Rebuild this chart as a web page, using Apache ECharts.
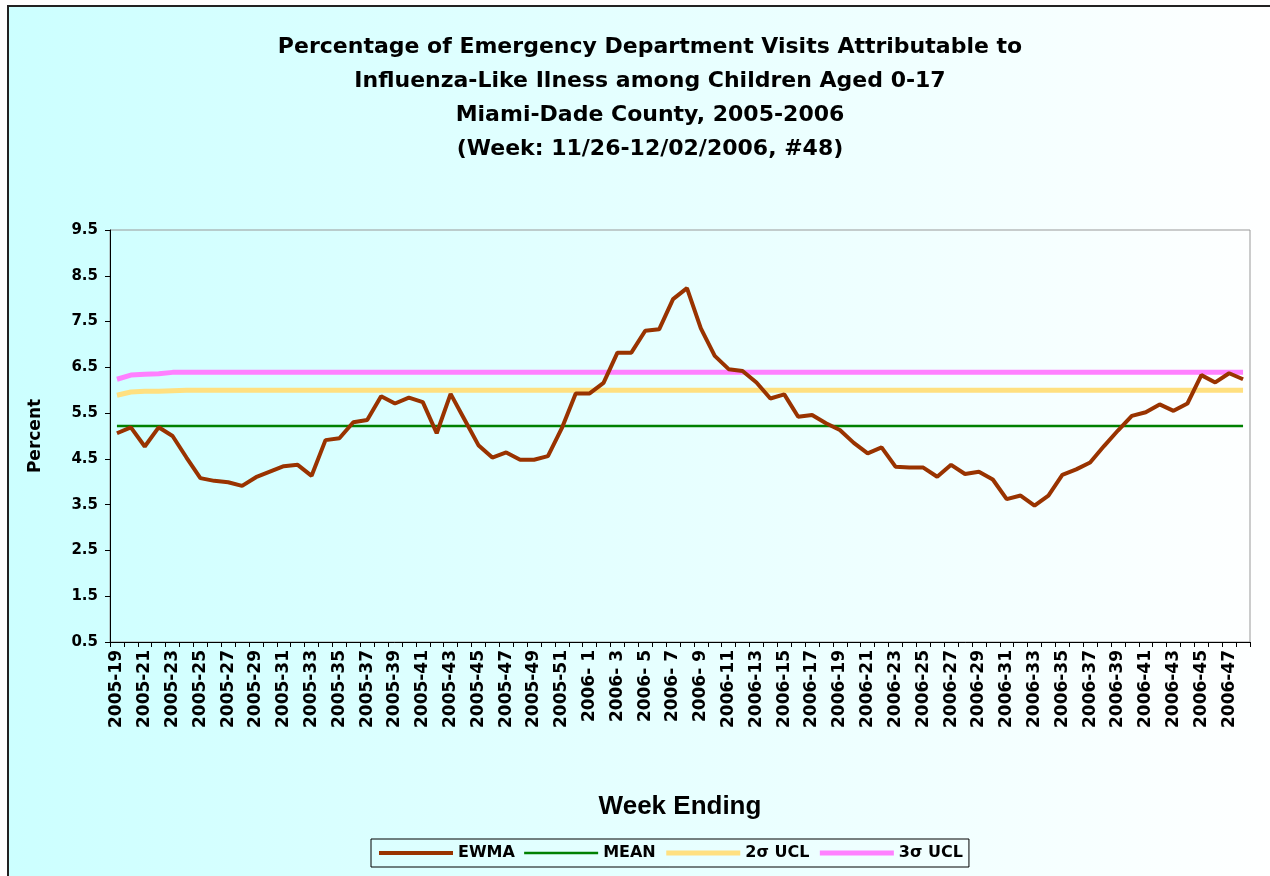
<!DOCTYPE html>
<html>
<head>
<meta charset="utf-8">
<script src="https://cdn.jsdelivr.net/npm/echarts@6/dist/echarts.min.js"></script>
<style>
    html, body { margin: 0; padding: 0; background: #ffffff; }
    #ilChart { width: 1270px; height: 876px; }
</style>
</head>
<body>
<div id="ilChart"></div>
<script>
    // week labels: 2005-19 .. 2005-52, 2006- 1 .. 2006-48
    var weeks2005 = [19, 52]
    var weeks2006 = [1, 48]
    var categories = []
    for (var w = weeks2005[0]; w <= weeks2005[1]; w++) categories.push('2005-' + w)
    for (var w2 = weeks2006[0]; w2 <= weeks2006[1]; w2++) categories.push('2006-' + (w2 < 10 ? ' ' + w2 : w2))

    var yTicks = [0.5, 1.5, 2.5, 3.5, 4.5, 5.5, 6.5, 7.5, 8.5, 9.5]

    var ewma = [5.06, 5.19, 4.77, 5.19, 5.00, 4.53, 4.08, 4.02, 3.99, 3.91,
        4.10, 4.22, 4.34, 4.37, 4.13, 4.91, 4.95, 5.30, 5.35, 5.87,
        5.71, 5.84, 5.74, 5.06, 5.92, 5.36, 4.80, 4.53, 4.64, 4.48,
        4.48, 4.56, 5.17, 5.93, 5.93, 6.16, 6.82, 6.82, 7.30, 7.33,
        7.99, 8.23, 7.35, 6.75, 6.46, 6.42, 6.17, 5.82, 5.91, 5.42,
        5.46, 5.28, 5.13, 4.85, 4.62, 4.75, 4.33, 4.31, 4.31, 4.11,
        4.37, 4.17, 4.22, 4.05, 3.62, 3.70, 3.48, 3.70, 4.15, 4.27,
        4.42, 4.78, 5.12, 5.44, 5.52, 5.69, 5.55, 5.71, 6.33, 6.17,
        6.37, 6.24]

    var mean = [5.22, 5.22, 5.22, 5.22, 5.22, 5.22, 5.22, 5.22, 5.22, 5.22,
        5.22, 5.22, 5.22, 5.22, 5.22, 5.22, 5.22, 5.22, 5.22, 5.22,
        5.22, 5.22, 5.22, 5.22, 5.22, 5.22, 5.22, 5.22, 5.22, 5.22,
        5.22, 5.22, 5.22, 5.22, 5.22, 5.22, 5.22, 5.22, 5.22, 5.22,
        5.22, 5.22, 5.22, 5.22, 5.22, 5.22, 5.22, 5.22, 5.22, 5.22,
        5.22, 5.22, 5.22, 5.22, 5.22, 5.22, 5.22, 5.22, 5.22, 5.22,
        5.22, 5.22, 5.22, 5.22, 5.22, 5.22, 5.22, 5.22, 5.22, 5.22,
        5.22, 5.22, 5.22, 5.22, 5.22, 5.22, 5.22, 5.22, 5.22, 5.22,
        5.22, 5.22]

    var ucl2 = [5.89, 5.96, 5.98, 5.98, 5.99, 6.00, 6.00, 6.00, 6.00, 6.00,
        6.00, 6.00, 6.00, 6.00, 6.00, 6.00, 6.00, 6.00, 6.00, 6.00,
        6.00, 6.00, 6.00, 6.00, 6.00, 6.00, 6.00, 6.00, 6.00, 6.00,
        6.00, 6.00, 6.00, 6.00, 6.00, 6.00, 6.00, 6.00, 6.00, 6.00,
        6.00, 6.00, 6.00, 6.00, 6.00, 6.00, 6.00, 6.00, 6.00, 6.00,
        6.00, 6.00, 6.00, 6.00, 6.00, 6.00, 6.00, 6.00, 6.00, 6.00,
        6.00, 6.00, 6.00, 6.00, 6.00, 6.00, 6.00, 6.00, 6.00, 6.00,
        6.00, 6.00, 6.00, 6.00, 6.00, 6.00, 6.00, 6.00, 6.00, 6.00,
        6.00, 6.00]

    var ucl3 = [6.24, 6.33, 6.35, 6.36, 6.39, 6.39, 6.39, 6.39, 6.39, 6.39,
        6.39, 6.39, 6.39, 6.39, 6.39, 6.39, 6.39, 6.39, 6.39, 6.39,
        6.39, 6.39, 6.39, 6.39, 6.39, 6.39, 6.39, 6.39, 6.39, 6.39,
        6.39, 6.39, 6.39, 6.39, 6.39, 6.39, 6.39, 6.39, 6.39, 6.39,
        6.39, 6.39, 6.39, 6.39, 6.39, 6.39, 6.39, 6.39, 6.39, 6.39,
        6.39, 6.39, 6.39, 6.39, 6.39, 6.39, 6.39, 6.39, 6.39, 6.39,
        6.39, 6.39, 6.39, 6.39, 6.39, 6.39, 6.39, 6.39, 6.39, 6.39,
        6.39, 6.39, 6.39, 6.39, 6.39, 6.39, 6.39, 6.39, 6.39, 6.39,
        6.39, 6.39]

    var titleLines = [
        'Percentage of Emergency Department Visits Attributable to',
        'Influenza-Like Ilness among Children Aged 0-17',
        'Miami-Dade County, 2005-2006',
        '(Week: 11/26-12/02/2006, #48)'
    ]

    var font = '"DejaVu Sans", "Liberation Sans", Arial, sans-serif'

    var myChart = echarts.init(document.getElementById('ilChart'), null, {renderer: 'canvas'})
    myChart.setOption({
        animation: false,
        backgroundColor: 'transparent',
        graphic: [
            {   // 背景 + 外框
                type: 'rect',
                z: -10,
                silent: true,
                shape: {x: 8, y: 6, width: 1275, height: 880},
                style: {
                    fill: {
                        type: 'linear', x: 0, y: 0, x2: 1, y2: 0,
                        colorStops: [{offset: 0, color: '#ccffff'}, {offset: 1, color: '#ffffff'}]
                    },
                    stroke: '#222222',
                    lineWidth: 2
                }
            },
            {
                type: 'text',
                silent: true,
                x: 650,
                y: 30,
                style: {
                    text: titleLines.join('\n'),
                    align: 'center',
                    verticalAlign: 'top',
                    fontFamily: font,
                    fontWeight: 'bold',
                    fontSize: 22,
                    lineHeight: 34,
                    fill: '#000000'
                }
            }
        ],
        legend: {
            data: ['EWMA', 'MEAN', '2σ UCL', '3σ UCL'],
            left: 371,
            top: 839,
            padding: [6, 6, 6, 6],
            itemGap: 8,
            itemWidth: 74,
            itemHeight: 8,
            borderColor: '#000000',
            borderWidth: 1,
            itemStyle: {opacity: 0},        // 不显示图例里的圆点
            lineStyle: {width: 'inherit'},
            textStyle: {
                color: '#000000',
                fontFamily: font,
                fontWeight: 'bold',
                fontSize: 16
            }
        },
        grid: {
            left: 110,
            right: 20,
            top: 230,
            bottom: 234,
            show: true,
            borderColor: '#999999',
            borderWidth: 1,
            backgroundColor: 'transparent'
        },
        xAxis: {
            type: 'category',
            data: categories,
            boundaryGap: true,
            name: 'Week Ending',
            nameLocation: 'middle',
            nameGap: 152,
            nameTextStyle: {
                color: '#000000',
                fontFamily: '"Liberation Sans", Arial, sans-serif',
                fontWeight: 'bold',
                fontSize: 26
            },
            axisLine: {show: true, lineStyle: {color: '#000000', width: 1}},
            axisTick: {show: true, interval: 0, length: 5, lineStyle: {color: '#000000'}},
            axisLabel: {
                interval: 1,
                rotate: 90,
                margin: 8,
                color: '#000000',
                fontFamily: font,
                fontWeight: 'bold',
                fontSize: 17
            },
            splitLine: {show: false}
        },
        yAxis: {
            type: 'value',
            min: 0.5,
            max: 9.5,
            name: 'Percent',
            nameLocation: 'middle',
            nameGap: 66,
            nameTextStyle: {
                color: '#000000',
                fontFamily: font,
                fontWeight: 'bold',
                fontSize: 17
            },
            axisLine: {show: true, lineStyle: {color: '#000000', width: 1}},
            axisTick: {show: true, length: 5, customValues: yTicks, lineStyle: {color: '#000000'}},
            axisLabel: {
                customValues: yTicks,
                margin: 12,
                color: '#000000',
                fontFamily: font,
                fontWeight: 'bold',
                fontSize: 15,
                formatter: function (v) { return v.toFixed(1) }
            },
            splitLine: {show: false}
        },
        series: [
            {
                name: 'EWMA',
                type: 'line',
                data: ewma,
                symbol: 'none',
                z: 5,
                itemStyle: {color: '#993300'},
                lineStyle: {color: '#993300', width: 4}
            },
            {
                name: 'MEAN',
                type: 'line',
                data: mean,
                symbol: 'none',
                z: 3,
                itemStyle: {color: '#008000'},
                lineStyle: {color: '#008000', width: 2.5}
            },
            {
                name: '2σ UCL',
                type: 'line',
                data: ucl2,
                symbol: 'none',
                z: 2,
                itemStyle: {color: '#ffe080'},
                lineStyle: {color: '#ffe080', width: 5}
            },
            {
                name: '3σ UCL',
                type: 'line',
                data: ucl3,
                symbol: 'none',
                z: 2,
                itemStyle: {color: '#ff80ff'},
                lineStyle: {color: '#ff80ff', width: 5}
            }
        ]
    })
</script>
</body>
</html>
